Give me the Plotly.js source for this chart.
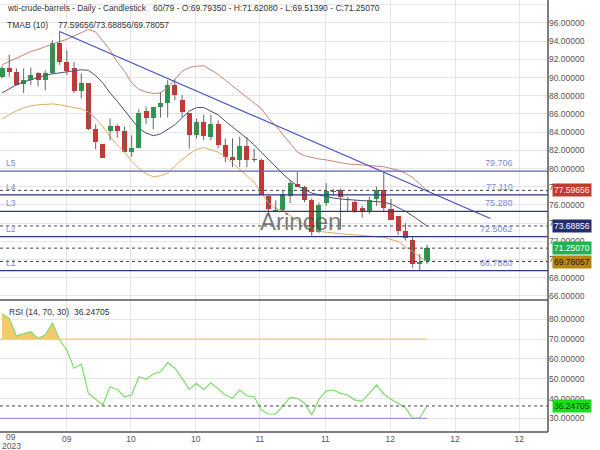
<!DOCTYPE html>
<html><head><meta charset="utf-8">
<script src="https://cdn.plot.ly/plotly-3.0.1.min.js"></script>
<style>body{margin:0;padding:0;background:#fff}#chart{width:600px;height:450px}</style>
</head><body><div id="chart"></div>
<script>
// ---- data ----
const openP  = [90.09,91.0,90.6,89.3,89.7,90.5,89.7,90.55,93.8,91.7,91.0,88.5,89.35,84.3,82.7,84.1,84.65,84.1,81.8,82.3,
                86.3,85.5,86.8,87.15,89.2,87.5,86.05,83.7,85.12,83.5,84.94,82.55,81.26,80.9,82.44,81.0,80.9,77.03,75.3,75.45,
                77.0,78.3,77.95,76.5,73.0,76.2,77.5,77.6,76.7,76.3,75.67,75.3,76.65,77.6,75.56,74.8,73.1,72.15,69.5,69.7935];
const highP  = [91.3,92.5,91.0,91.0,91.1,90.6,90.8,94.1,95.05,93.0,91.7,90.45,89.35,84.85,82.7,85.5,84.85,84.6,83.65,86.5,
                86.8,86.8,88.4,89.7,89.8,88.05,86.05,85.5,85.9,85.9,85.3,83.3,83.3,83.5,83.46,82.2,81.1,77.03,76.5,77.6,
                78.75,79.6,78.1,76.7,76.25,78.4,77.75,77.8,76.9,76.5,75.9,76.9,78.0,79.6,76.65,74.8,74.0,72.5,70.6,71.6208];
const lowP   = [89.9,90.1,89.1,88.3,89.2,89.0,88.6,90.4,91.4,90.3,88.3,87.7,84.2,82.1,81.15,83.1,83.4,81.8,81.3,82.3,
                84.9,84.3,85.6,85.6,87.5,85.6,82.2,83.3,83.1,83.1,82.2,80.7,80.15,80.15,80.15,80.7,77.1,74.8,75.2,75.2,
                76.2,77.95,76.3,72.6,72.9,75.9,77.05,73.3,75.2,75.1,74.6,75.0,75.9,75.2,74.3,72.7,72.1,69.1,68.79,69.5139];
const closeP = [91.08,90.6,89.2,89.7,90.3,89.7,90.5,93.8,91.7,90.75,88.5,89.35,84.3,82.9,81.15,84.65,84.1,81.8,82.3,86.05,
                85.5,86.8,87.15,89.2,88.05,86.2,83.7,85.1,83.54,84.9,82.55,81.26,80.9,82.44,80.9,80.9,77.1,75.56,75.45,77.2,
                78.4,78.0,76.5,73.0,76.0,77.5,77.45,76.85,76.5,75.2,75.2,76.5,77.6,75.7,74.3,73.1,72.35,69.5,69.74,71.2507];
const bandUpper = [91.4,91.75,92.1,92.45,92.85,93.1,93.4,93.7,93.95,94.2,94.55,94.9,95.3,95.0,94.0,93.0,91.7,90.7,89.4,88.7,
                   88.4,88.25,88.3,88.9,89.8,90.7,91.1,91.25,91.3,90.8,90.35,89.7,89.05,88.4,87.8,87.2,86.6,85.5,84.7,83.7,
                   82.7,81.8,81.4,81.2,81.05,80.95,80.8,80.6,80.5,80.45,80.4,80.35,80.3,80.2,80.0,79.8,79.5,79.0,78.3,77.59656];
const bandMid   = [88.3,88.75,89.2,89.5,89.75,90.0,90.25,90.4,90.5,90.6,90.75,90.85,90.8,90.2,89.4,88.3,87.4,86.4,85.4,84.4,
                   83.9,83.6,83.8,84.3,84.8,85.6,86.3,86.7,86.7,86.3,85.9,85.2,84.6,83.9,83.3,82.6,81.8,81.0,80.1,79.4,
                   78.7,78.1,77.7,77.3,77.1,76.9,76.75,76.65,76.6,76.5,76.45,76.4,76.35,76.3,76.1,75.7,75.3,74.8,74.2,73.68856];
const bandLower = [85.45,85.9,86.35,86.65,86.9,87.0,87.05,87.1,87.0,86.85,86.7,86.55,86.2,85.5,84.6,83.5,82.6,81.8,80.8,80.0,
                   79.4,79.1,79.2,79.5,80.3,81.0,81.6,82.1,82.3,82.05,81.8,81.3,80.6,79.8,79.2,78.5,77.3,76.2,75.6,75.35,
                   74.8,74.3,73.8,73.4,73.1,73.0,72.9,72.85,72.75,72.7,72.65,72.6,72.55,72.45,72.2,72.0,71.4,70.9,70.3,69.78057];
const rsiVals = [82.7,80.5,71.6,72.6,73.7,70.4,72.1,78.3,69.5,64.5,55.3,57.4,42.6,39.6,36.7,46.0,44.6,40.9,41.8,51.0,
                 49.7,52.4,53.5,58.1,55.3,50.2,44.6,47.7,44.6,48.0,45.1,41.8,40.1,44.3,41.3,40.9,34.2,32.2,32.2,36.7,
                 40.6,40.1,37.6,31.7,39.6,43.9,44.3,42.6,41.8,39.2,38.7,42.6,46.8,42.3,39.6,37.6,35.4,30.0,30.3,36.24705];
const levelNames  = ['L5','L4','L3','L2','L1'];
const levelValues = [79.706, 77.110, 75.280, 72.5062, 68.7880];
const levelLabels = ['79.706','77.110','75.280','72.5062','68.7880'];
const trendX = [8, 67.8];
const trendY = [95.05, 74.5];
const tickPos  = [9.0, 17.9, 26.9, 35.8, 44.9, 53.9, 62.9, 71.8];
const tickText = ['09','10','10','11','11','12','12','12'];
const firstTickPos = 1.3, firstTickMonth = '09', firstTickYear = '2023';
const markerValues = [77.59656, 73.68856, 71.25070, 69.78057];
const markerTexts  = ['77.59656','73.68856','71.25070','69.78057'];
const rsiLast = 36.24705, rsiLastText = '36.24705';
const rsiHigh = 70, rsiLow = 30;

// ---- build ----
const FONT = 'Liberation Sans, Arial, sans-serif';
const idx = openP.map((_, i) => i);
const GREEN = '#22a04c', RED = '#d4302d';

const wx = [], wy = [];
idx.forEach(i => { wx.push(i, i, null); wy.push(lowP[i], highP[i], null); });

const traces = [];
traces.push({x: idx, y: bandUpper, type: 'scatter', mode: 'lines', line: {color: '#c98477', width: 1}, xaxis: 'x', yaxis: 'y', hoverinfo: 'skip'});
traces.push({x: idx, y: bandMid, type: 'scatter', mode: 'lines', line: {color: '#4a4f7c', width: 1}, xaxis: 'x', yaxis: 'y', hoverinfo: 'skip'});
traces.push({x: idx, y: bandLower, type: 'scatter', mode: 'lines', line: {color: '#d8b062', width: 1}, xaxis: 'x', yaxis: 'y', hoverinfo: 'skip'});
traces.push({x: trendX, y: trendY, type: 'scatter', mode: 'lines', line: {color: '#4650c4', width: 1.2}, xaxis: 'x', yaxis: 'y', hoverinfo: 'skip'});
traces.push({x: wx, y: wy, type: 'scatter', mode: 'lines', line: {color: '#666', width: 1}, xaxis: 'x', yaxis: 'y', hoverinfo: 'skip'});
traces.push({
  x: idx, base: idx.map(i => Math.min(openP[i], closeP[i])),
  y: idx.map(i => Math.max(Math.abs(closeP[i] - openP[i]), 0.08)),
  type: 'bar', width: 0.7, xaxis: 'x', yaxis: 'y',
  marker: {color: idx.map(i => closeP[i] >= openP[i] ? GREEN : RED), line: {width: 0}}, hoverinfo: 'skip'
});
traces.push({x: idx, y: idx.map(() => rsiHigh), type: 'scatter', mode: 'lines', line: {width: 0, color: 'rgba(0,0,0,0)'}, xaxis: 'x', yaxis: 'y2', hoverinfo: 'skip'});
traces.push({x: idx, y: rsiVals.map(v => Math.max(v, rsiHigh)), type: 'scatter', mode: 'lines', fill: 'tonexty', fillcolor: 'rgba(246,192,84,0.85)', line: {width: 0, color: 'rgba(0,0,0,0)'}, xaxis: 'x', yaxis: 'y2', hoverinfo: 'skip'});
traces.push({x: idx, y: rsiVals, type: 'scatter', mode: 'lines', line: {color: '#7edc6c', width: 1.2}, xaxis: 'x', yaxis: 'y2', hoverinfo: 'skip'});

const shapes = [];
levelValues.forEach((v, k) => shapes.push({type: 'line', xref: 'paper', x0: 0, x1: 1, yref: 'y', y0: v, y1: v, line: {color: k === 0 ? '#5a60cc' : '#2e3585', width: 1.2}}));
markerValues.forEach(v => shapes.push({type: 'line', xref: 'paper', x0: 0, x1: 1, yref: 'y', y0: v, y1: v, line: {color: '#444', width: 1, dash: '3px,3px'}}));
shapes.push({type: 'line', xref: 'x', x0: -0.28, x1: idx[idx.length - 1], yref: 'y2', y0: rsiHigh, y1: rsiHigh, line: {color: '#f5c878', width: 1.2}});
shapes.push({type: 'line', xref: 'x', x0: -0.28, x1: idx[idx.length - 1], yref: 'y2', y0: rsiLow, y1: rsiLow, line: {color: '#ae8ee6', width: 1.2}});
shapes.push({type: 'line', xref: 'paper', x0: 0, x1: 1, yref: 'y2', y0: rsiLast, y1: rsiLast, line: {color: '#444', width: 1, dash: '3px,3px'}});
const SPLIT = 132 / 432;
shapes.push({type: 'line', xref: 'paper', yref: 'paper', x0: 1, x1: 1, y0: 0, y1: 1, line: {color: '#555', width: 1.5}});
shapes.push({type: 'line', xref: 'paper', yref: 'paper', x0: 0, x1: 1, y0: SPLIT, y1: SPLIT, line: {color: '#555', width: 1.5}});
shapes.push({type: 'line', xref: 'paper', yref: 'paper', x0: 0, x1: 1, y0: 0, y1: 0, line: {color: '#555', width: 1.5}});

const ann = [];
const py = p => 1 - p / 432;
const txt = (x, y, text, size, color, extra) => Object.assign({xref: 'paper', yref: 'paper', x: x / 548, y: py(y), text: text, showarrow: false, xanchor: 'left', yanchor: 'middle', font: {family: FONT, size: size, color: color}}, extra || {});
ann.push(txt(5, 8, 'wti-crude-barrels - Daily - Candlestick', 8.3, '#333'));
ann.push(txt(151, 8, '60/79 - O:69.79350 - H:71.62080 - L:69.51390 - C:71.25070', 8.5, '#333'));
ann.push(txt(5, 25, 'TMAB (10)', 8.5, '#333'));
ann.push(txt(56, 25, markerTexts[0] + '/' + markerTexts[1] + '/' + markerTexts[3], 8.5, '#333'));
ann.push(txt(7, 311.5, 'RSI (14, 70, 30)', 8.5, '#333'));
ann.push(txt(72, 311.5, rsiLastText, 8.5, '#333'));
ann.push({xref: 'paper', yref: 'paper', x: 300 / 548, y: py(222), text: 'Arincen', showarrow: false, xanchor: 'center', yanchor: 'middle', font: {family: FONT, size: 24, color: 'rgba(80,80,80,0.75)'}});
levelValues.forEach((v, k) => {
  ann.push({xref: 'paper', yref: 'y', x: 0, y: v, xshift: 4, yshift: 1, text: levelNames[k], showarrow: false, xanchor: 'left', yanchor: 'bottom', font: {family: FONT, size: 8.5, color: '#7b8bd8'}});
  ann.push({xref: 'paper', yref: 'y', x: 515 / 548, y: v, yshift: 1, text: levelLabels[k], showarrow: false, xanchor: 'right', yanchor: 'bottom', font: {family: FONT, size: 9, color: '#7b8bd8'}});
});
const boxCols = ['#c23b32', '#242d6e', '#1fb24f', '#b8860b'];
const boxTxt  = ['#fbe9e7', '#ffffff', '#ffffff', '#1a1a1a'];
markerValues.forEach((v, k) => ann.push({xref: 'paper', yref: 'y', x: 1, xshift: 4, y: v, text: markerTexts[k], showarrow: false, xanchor: 'left', yanchor: 'middle', bgcolor: boxCols[k], borderpad: 1, font: {family: FONT, size: 8.5, color: boxTxt[k]}}));
ann.push({xref: 'paper', yref: 'y2', x: 1, xshift: 4, y: rsiLast, text: rsiLastText, showarrow: false, xanchor: 'left', yanchor: 'middle', bgcolor: '#18e018', borderpad: 1, font: {family: FONT, size: 8.5, color: '#1a3a1a'}});
ann.push({xref: 'x', yref: 'paper', x: firstTickPos, y: py(437.5), text: firstTickMonth, showarrow: false, xanchor: 'center', yanchor: 'middle', font: {family: FONT, size: 8.5, color: '#555'}});
ann.push({xref: 'x', yref: 'paper', x: firstTickPos, y: py(445.5), text: firstTickYear, showarrow: false, xanchor: 'center', yanchor: 'middle', font: {family: FONT, size: 8.5, color: '#555'}});

const layout = {
  width: 600, height: 450,
  margin: {l: 0, r: 52, t: 0, b: 18, pad: 0},
  paper_bgcolor: '#fff', plot_bgcolor: '#fff',
  showlegend: false, barmode: 'overlay', bargap: 0,
  font: {family: FONT},
  xaxis: {range: [-0.28, 75.8], tickvals: tickPos, ticktext: tickText, showgrid: true, gridcolor: '#e6e6e6', gridwidth: 1,
          zeroline: false, showline: false, ticks: '', tickfont: {family: FONT, size: 8.5, color: '#555'}, anchor: 'y2', fixedrange: true},
  yaxis: {domain: [SPLIT, 1], range: [65.55, 98.52], side: 'right', dtick: 2, tick0: 0, tickformat: '.5f',
          showgrid: true, gridcolor: '#e6e6e6', zeroline: false, showline: false, ticks: '', tickfont: {family: FONT, size: 8.5, color: '#555'}, anchor: 'x'},
  yaxis2: {domain: [0, SPLIT], range: [23.1, 89.75], side: 'right', dtick: 10, tick0: 0, tickformat: '.5f',
           showgrid: true, gridcolor: '#e6e6e6', zeroline: false, showline: false, ticks: '', tickfont: {family: FONT, size: 8.5, color: '#555'}, anchor: 'x'},
  shapes: shapes, annotations: ann
};
Plotly.newPlot('chart', traces, layout, {staticPlot: true, displayModeBar: false});
</script></body></html>
